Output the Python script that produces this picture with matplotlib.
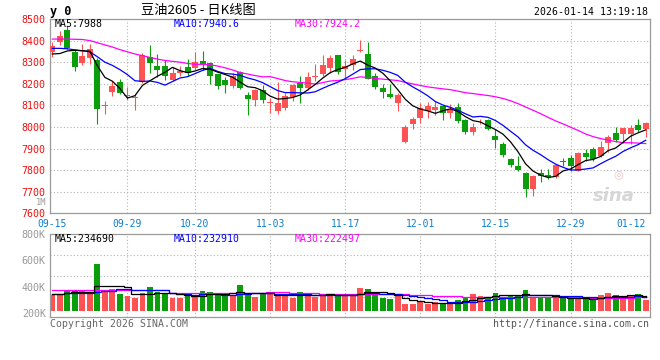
import numpy as np
import pandas as pd
import matplotlib
matplotlib.use("Agg")
import matplotlib.pyplot as plt

# ---------------- data ----------------
date_labels = ["09-15", "09-29", "10-20", "11-03", "11-17", "12-01", "12-15", "12-29", "01-12"]
date_index = [0, 10, 19, 29, 39, 49, 59, 69, 77]

opens = [8348, 8394, 8450, 8348, 8297, 8320, 8312, 8096, 8163, 8208,
         8142, 8133, 8208, 8323, 8282, 8282, 8217, 8250, 8277, 8274,
         8305, 8298, 8243, 8218, 8188, 8254, 8149, 8123, 8169, 8109,
         8074, 8089, 8138, 8203, 8182, 8232, 8243, 8272, 8331, 8268,
         8285, 8350, 8338, 8235, 8182, 8151, 8112, 7931, 8012, 8043,
         8074, 8078, 8097, 8063, 8094, 8032, 7977, 8030, 8033, 7960,
         7923, 7853, 7821, 7788, 7713, 7788, 7778, 7768, 7841, 7858,
         7798, 7877, 7897, 7865, 7926, 7972, 7968, 7968, 8009, 7990]
highs = [8394, 8446, 8468, 8363, 8382, 8382, 8320, 8120, 8215, 8220,
         8185, 8151, 8342, 8378, 8338, 8312, 8277, 8282, 8317, 8348,
         8350, 8302, 8245, 8231, 8249, 8261, 8162, 8177, 8192, 8134,
         8208, 8157, 8200, 8234, 8254, 8292, 8331, 8335, 8335, 8312,
         8335, 8402, 8395, 8251, 8197, 8197, 8158, 8008, 8048, 8109,
         8115, 8120, 8102, 8105, 8109, 8035, 8020, 8038, 8039, 7990,
         7930, 7855, 7866, 7791, 7776, 7803, 7803, 7829, 7858, 7870,
         7882, 7900, 7908, 7933, 7963, 7998, 7995, 8009, 8036, 8024]
lows = [8323, 8378, 8360, 8258, 8289, 8292, 8015, 8058, 8143, 8154,
        8123, 8077, 8205, 8251, 8231, 8217, 8212, 8235, 8235, 8266,
        8265, 8200, 8174, 8157, 8182, 8177, 8054, 8095, 8110, 8065,
        8062, 8077, 8120, 8111, 8172, 8215, 8234, 8249, 8243, 8220,
        8266, 8348, 8220, 8174, 8135, 8135, 8074, 7925, 7992, 8020,
        8043, 8054, 8032, 8043, 8020, 7966, 7963, 8012, 7986, 7903,
        7860, 7814, 7795, 7675, 7682, 7743, 7758, 7765, 7818, 7798,
        7795, 7840, 7840, 7862, 7885, 7930, 7926, 7923, 7975, 7953]
closes = [8374, 8420, 8365, 8278, 8328, 8363, 8082, 8097, 8189, 8158,
          8143, 8137, 8335, 8297, 8263, 8235, 8251, 8258, 8251, 8300,
          8293, 8236, 8190, 8195, 8238, 8180, 8128, 8169, 8123, 8114,
          8111, 8142, 8192, 8182, 8231, 8238, 8289, 8318, 8254, 8282,
          8317, 8355, 8223, 8186, 8163, 8140, 8148, 8002, 8035, 8089,
          8097, 8092, 8063, 8078, 8028, 7977, 8000, 8031, 7990, 7941,
          7871, 7822, 7800, 7713, 7773, 7775, 7768, 7826, 7839, 7818,
          7877, 7862, 7852, 7908, 7953, 7938, 7994, 7994, 7986, 8020]
# volume in thousands (K)
volumes = [336, 341, 369, 369, 369, 353, 573, 358, 381, 343,
           328, 313, 353, 397, 356, 341, 313, 313, 341, 323,
           366, 358, 341, 336, 336, 412, 341, 320, 341, 341,
           341, 325, 315, 358, 341, 323, 343, 336, 330, 343,
           336, 389, 381, 358, 313, 305, 336, 267, 267, 279,
           267, 279, 272, 272, 297, 313, 343, 328, 323, 351,
           323, 336, 336, 374, 323, 310, 323, 323, 310, 310,
           302, 310, 310, 336, 351, 336, 310, 336, 343, 297]

# moving-average values before a full window exists
ma5_head = [8338, 8340, 8352, 8355]
ma10_head = [8364, 8364, 8362, 8357, 8353, 8348, 8325, 8300, 8285]
ma30_head = [8407, 8407, 8407, 8406, 8405, 8400, 8390, 8380, 8370, 8358,
             8348, 8338, 8330, 8322, 8314, 8308, 8304, 8300, 8294, 8290,
             8290, 8288, 8282, 8274, 8264, 8252, 8245, 8238, 8232]
vol_ma5_head = [341, 341, 350, 355]
vol_ma10_head = [341, 341, 348, 348, 348, 348, 360, 365, 370]
vol_ma30_head = [374, 374, 374, 374, 374, 374, 374, 374, 374, 374,
                 374, 374, 374, 374, 374, 374, 350, 350, 350, 350,
                 350, 350, 350, 350, 350, 350, 350, 350, 352]

price_ticks = [7600, 7700, 7800, 7900, 8000, 8100, 8200, 8300, 8400, 8500]
vol_ticks = [200, 400, 600, 800]
vol_tick_labels = ["200K", "400K", "600K", "800K"]

legend_price = ["MA5:7988", "MA10:7940.6", "MA30:7924.2"]
legend_vol = ["MA5:234690", "MA10:232910", "MA30:222497"]

# ---------------- helpers ----------------
def moving_avg(values, n, head):
    s = pd.Series(values, dtype=float).rolling(n).mean().to_numpy()
    s[:n - 1] = head
    return s

W, H = 660, 360
RED = "#ff5252"
GREEN = "#0a9f0a"
GRID = "#b4b4b4"
BORDER = "#9a9a9a"
MONO = "DejaVu Sans Mono"

fig = plt.figure(figsize=(W / 100, H / 100), dpi=100)
fig.patch.set_facecolor("white")

def px_rect(x0, y0, x1, y1):
    return [x0 / W, 1 - y1 / H, (x1 - x0) / W, (y1 - y0) / H]

ax = fig.add_axes(px_rect(50, 19, 650, 213.3))
axv = fig.add_axes(px_rect(50, 234.3, 650, 317.3))

n = len(closes)
x = np.arange(n)
o = np.array(opens, float)
c = np.array(closes, float)
hi = np.array(highs, float)
lo = np.array(lows, float)
up = c >= o
colors = [RED if u else GREEN for u in up]

xlim = (-0.31, n - 1 + 0.57)

# ---------------- price panel ----------------
ax.set_xlim(*xlim)
ax.set_ylim(7600, 8500)
for yv in price_ticks[1:-1]:
    ax.axhline(yv, color=GRID, lw=0.8, ls=(0, (1, 2)), zorder=0)
for xi in date_index[1:-1]:
    ax.axvline(xi, color=GRID, lw=0.8, ls=(0, (1, 2)), zorder=0)

ax.vlines(x, lo, hi, colors=colors, lw=0.8, zorder=2)
body_bottom = np.minimum(o, c)
body_h = np.maximum(np.abs(c - o), 4)
ax.bar(x, body_h, bottom=body_bottom, width=0.8, color=colors, lw=0, zorder=3)

ma5 = moving_avg(closes, 5, ma5_head)
ma10 = moving_avg(closes, 10, ma10_head)
ma30 = moving_avg(closes, 30, ma30_head)
ax.plot(x, ma30, color="#ff00ff", lw=0.9, zorder=4)
ax.plot(x, ma10, color="#0000ff", lw=0.9, zorder=4)
ax.plot(x, ma5, color="#000000", lw=0.9, zorder=4)

ax.set_yticks(price_ticks)
ax.set_yticklabels([str(t) for t in price_ticks], color="#ee1111",
                   fontfamily=MONO, fontsize=7.2)
ax.set_xticks(date_index)
ax.set_xticklabels(date_labels, color="#0a7ed2", fontfamily=MONO, fontsize=7)
ax.tick_params(length=0, pad=3)
ax.tick_params(axis="x", pad=4)
for sp in ax.spines.values():
    sp.set_color(BORDER)
    sp.set_linewidth(0.9)

# sina watermark
ax.text(0.975, 0.09, "sina", transform=ax.transAxes, ha="right", va="center",
        fontsize=13, fontweight="bold", style="italic", color="#d6d6d6", zorder=1)
ax.text(0.955, 0.20, "\u25CE", transform=ax.transAxes, ha="right", va="center",
        fontsize=8, color="#f3c2c2", zorder=1)

# ---------------- volume panel ----------------
vols = np.array(volumes, float)
vol_base = 217
axv.set_xlim(*xlim)
axv.set_ylim(165, 800)
for f in (0.25, 0.5, 0.75):
    axv.plot([0, 1], [f, f], transform=axv.transAxes, color=GRID, lw=0.8,
             ls=(0, (1, 2)), zorder=0)
for xi in date_index[1:-1]:
    axv.axvline(xi, color=GRID, lw=0.8, ls=(0, (1, 2)), zorder=0)
axv.bar(x, vols - vol_base, bottom=vol_base, width=0.78, color=colors, lw=0, zorder=2)

vma5 = moving_avg(volumes, 5, vol_ma5_head)
vma10 = moving_avg(volumes, 10, vol_ma10_head)
vma30 = moving_avg(volumes, 30, vol_ma30_head)
axv.plot(x, vma30, color="#ff00ff", lw=0.9, drawstyle="steps-mid", zorder=3)
axv.plot(x, vma10, color="#0000ff", lw=0.9, drawstyle="steps-mid", zorder=3)
axv.plot(x, vma5, color="#000000", lw=0.9, drawstyle="steps-mid", zorder=3)

axv.set_yticks(vol_ticks)
axv.set_yticklabels(vol_tick_labels, color="#999999", fontfamily=MONO, fontsize=7.2)
axv.set_xticks([])
axv.tick_params(length=0, pad=3)
for sp in axv.spines.values():
    sp.set_color(BORDER)
    sp.set_linewidth(0.9)

# ---------------- texts ----------------
def ftext(px, py, s, **kw):
    fig.text(px / W, 1 - py / H, s, **kw)

ftext(50, 11, "y 0", fontfamily=MONO, fontsize=8.5, fontweight="bold",
      ha="left", va="center", color="black")
ftext(141, 10.5, "豆油2605 - 日K线图", fontfamily=["Noto Sans CJK SC", "DejaVu Sans"],
      fontsize=9.5, ha="left", va="center", color="black")
ftext(648, 12, "2026-01-14 13:19:18", fontfamily=MONO, fontsize=7.1,
      ha="right", va="center", color="black")

leg_colors = ["#000000", "#0000ff", "#ff00ff"]
leg_x = [55, 174, 295]
for s, col, lx in zip(legend_price, leg_colors, leg_x):
    ftext(lx, 24, s, fontfamily=MONO, fontsize=7.1, ha="left", va="center", color=col)
for s, col, lx in zip(legend_vol, leg_colors, leg_x):
    ftext(lx, 238.5, s, fontfamily=MONO, fontsize=7.1, ha="left", va="center", color=col)

ftext(46, 202.5, "1M", fontfamily=MONO, fontsize=6.3, ha="right", va="center", color="#999999")
ftext(50, 324, "Copyright 2026 SINA.COM", fontfamily=MONO, fontsize=7.1,
      ha="left", va="center", color="#666666")
ftext(649, 324, "http://finance.sina.com.cn", fontfamily=MONO, fontsize=7.1,
      ha="right", va="center", color="#555555")

fig.savefig("out.png", dpi=100, facecolor="white")
